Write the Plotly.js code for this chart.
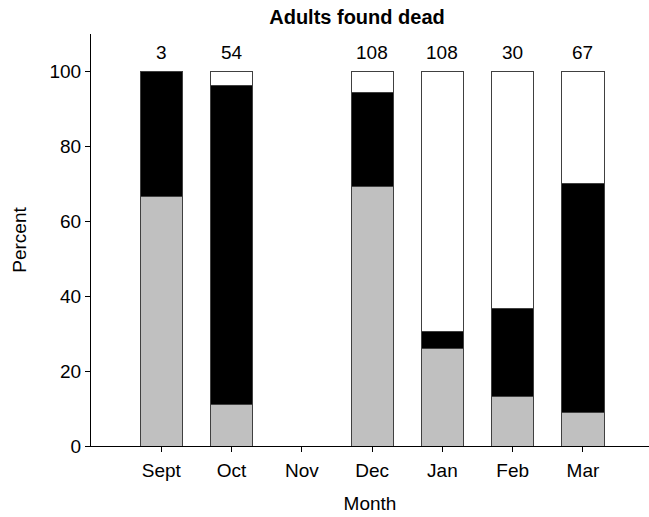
<!DOCTYPE html>
<html>
<head>
<meta charset="utf-8">
<script src="https://cdn.plot.ly/plotly-3.0.1.min.js"></script>
<style>html,body{margin:0;padding:0;background:#fff;}#chart{width:649px;height:517px;}</style>
</head>
<body>
<div id="chart"></div>
<script>
const months = ["Sept", "Oct", "Nov", "Dec", "Jan", "Feb", "Mar"];
const counts = ["3", "54", "", "108", "108", "30", "67"];
const greyPct = [66.7, 11.1, null, 69.4, 25.9, 13.3, 9.0];
const blackPct = [33.3, 85.2, null, 25.0, 4.6, 23.4, 61.2];
const whitePct = [0, 3.7, null, 5.6, 69.5, 63.3, 29.8];

const lineStyle = {color: "#404040", width: 1};
const traces = [
  {type: "bar", x: months, y: greyPct, marker: {color: "#c0c0c0", line: lineStyle}, width: 0.6, hoverinfo: "skip"},
  {type: "bar", x: months, y: blackPct, marker: {color: "#000000", line: lineStyle}, width: 0.6, hoverinfo: "skip"},
  {type: "bar", x: months, y: whitePct, marker: {color: "#ffffff", line: lineStyle}, width: 0.6, hoverinfo: "skip"}
];

const annotations = months.map((m, i) => ({
  x: m, y: 100, xref: "x", yref: "y", text: counts[i], showarrow: false,
  yanchor: "bottom", yshift: 6, font: {size: 19, color: "#000"}
})).filter(a => a.text !== "");

const layout = {
  width: 649, height: 517,
  margin: {l: 91, r: 0, t: 34, b: 71},
  paper_bgcolor: "#fff", plot_bgcolor: "#fff",
  font: {family: "Liberation Sans, Arial, sans-serif", size: 19, color: "#000"},
  barmode: "stack",
  showlegend: false,
  title: {text: "<b>Adults found dead</b>", x: 357/649, xref: "container", xanchor: "center", y: 0.981, yanchor: "top", yref: "container", font: {size: 20}},
  xaxis: {
    type: "category", range: [-1, 6.94], showline: true, linecolor: "#000", linewidth: 1,
    ticks: "outside", ticklen: 5, tickcolor: "#000", showgrid: false, zeroline: false,
    tickfont: {size: 19}, ticklabelstandoff: 2,
    title: {text: "Month", font: {size: 19}, standoff: 16}
  },
  yaxis: {
    range: [0, 110], tickvals: [0, 20, 40, 60, 80, 100], showline: true, linecolor: "#000", linewidth: 1,
    ticks: "outside", ticklen: 5, tickcolor: "#000", showgrid: false, zeroline: false,
    tickfont: {size: 19},
    title: {text: "Percent", font: {size: 19}, standoff: 17}
  },
  annotations: annotations
};

Plotly.newPlot("chart", traces, layout, {displayModeBar: false, staticPlot: true});
</script>
</body>
</html>
